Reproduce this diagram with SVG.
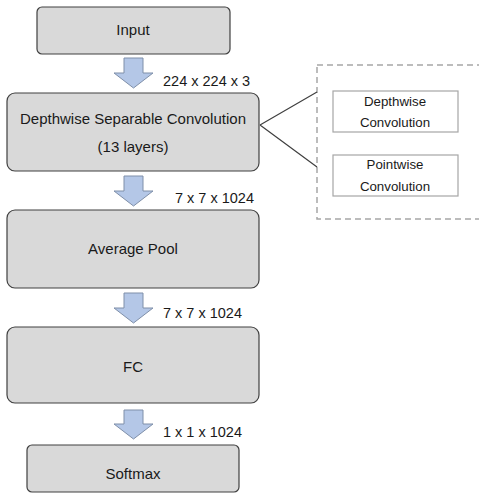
<svg xmlns="http://www.w3.org/2000/svg" width="479" height="504" viewBox="0 0 479 504">
<style>
.box{fill:#d9d9d9;stroke:#404040;stroke-width:1.2}
.sub{fill:#ffffff;stroke:#a6a6a6;stroke-width:1.2}
.arr{fill:#b4c7e7;stroke:#7f8fa9;stroke-width:1}
.t{font-family:"Liberation Sans",Arial,sans-serif;font-size:15px;fill:#1a1a1a;text-anchor:middle}
.s{font-family:"Liberation Sans",Arial,sans-serif;font-size:13.3px;fill:#1a1a1a;text-anchor:middle}
.l{font-family:"Liberation Sans",Arial,sans-serif;font-size:14.5px;fill:#1a1a1a}
.ln{stroke:#404040;stroke-width:1.2;fill:none}
</style>
<rect width="479" height="504" fill="#ffffff"/>
<g id="input"><rect class="box" x="37" y="7" width="193" height="47" rx="5"/><text class="t" x="133" y="35">Input</text></g>
<g id="dsc"><rect class="box" x="7" y="93" width="252" height="78" rx="8"/><text class="t" x="133" y="124">Depthwise Separable Convolution</text><text class="t" x="133" y="152">(13 layers)</text></g>
<g id="avgpool"><rect class="box" x="7" y="210" width="252" height="78" rx="8"/><text class="t" x="133" y="254">Average Pool</text></g>
<g id="fc"><rect class="box" x="7" y="327" width="252" height="76" rx="8"/><text class="t" x="133" y="372">FC</text></g>
<g id="softmax"><rect class="box" x="27" y="445" width="212" height="47" rx="5"/><text class="t" x="133" y="479">Softmax</text></g>
<g id="detail"><rect x="317" y="65" width="180" height="154" fill="none" stroke="#a6a6a6" stroke-width="1.5" stroke-dasharray="6 4"/></g>
<g id="depthwise"><rect class="sub" x="333" y="91" width="125" height="41"/><text class="s" x="395" y="106">Depthwise</text><text class="s" x="395" y="127">Convolution</text></g>
<g id="pointwise"><rect class="sub" x="333" y="155" width="125" height="41"/><text class="s" x="395" y="169">Pointwise</text><text class="s" x="395" y="191">Convolution</text></g>
<g id="connectors">
<path class="ln" d="M260 125 L317 92 M260 125 L317 167"/>
<path class="arr" d="M124 58 H143 V73 H153 L133.5 88 L114 73 H124 Z"/>
<path class="arr" d="M124 176 H143 V191 H153 L133.5 206 L114 191 H124 Z"/>
<path class="arr" d="M124 293 H143 V308 H153 L133.5 323 L114 308 H124 Z"/>
<path class="arr" d="M124 410 H143 V424 H153 L133.5 439 L114 424 H124 Z"/>
<text class="l" x="163" y="86">224 x 224 x 3</text>
<text class="l" x="175" y="203">7 x 7 x 1024</text>
<text class="l" x="163" y="318">7 x 7 x 1024</text>
<text class="l" x="163" y="437">1 x 1 x 1024</text>
</g>
</svg>
